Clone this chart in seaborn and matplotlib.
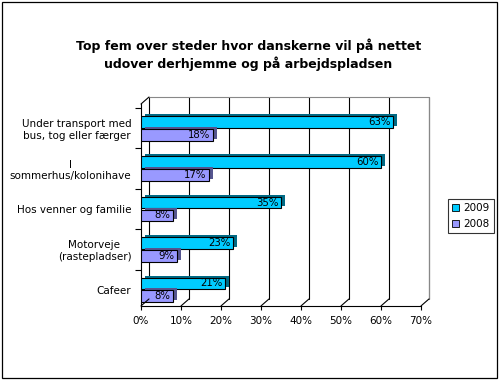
import pandas as pd
import seaborn as sns

import matplotlib.pyplot as plt
import matplotlib.patheffects as PathEffects
import matplotlib.transforms as mtransforms
from matplotlib.patches import Rectangle
from matplotlib.ticker import FixedLocator

# Data
categories = [
    "Under transport med\nbus, tog eller færger",
    "I\nsommerhus/kolonihave",
    "Hos venner og familie",
    "Motorveje\n(rastepladser)",
    "Cafeer",
]
years = ["2009", "2008"]
values_2009 = [63, 60, 35, 23, 21]
values_2008 = [18, 17, 8, 9, 8]
x_ticks = [0, 10, 20, 30, 40, 50, 60, 70]

colors = {"2009": "#00CCFF", "2008": "#9999FF"}
side_colors = {"2009": "#006A85", "2008": "#55558F"}

df = pd.DataFrame({
    "Sted": categories * 2,
    "Andel": values_2009 + values_2008,
    "År": ["2009"] * len(categories) + ["2008"] * len(categories),
})

if __name__ == "__main__":
    sns.set_style("white")
    plt.rcParams["font.family"] = ["DejaVu Sans"]
    plt.rcParams["text.color"] = "black"
    plt.rcParams["xtick.color"] = "black"
    plt.rcParams["ytick.color"] = "black"
    plt.rcParams["axes.labelcolor"] = "black"

    fig = plt.figure(figsize=(5.0, 3.81), dpi=100)
    ax = fig.add_axes([0.282, 0.197, 0.56, 0.530])

    sns.barplot(
        data=df, x="Andel", y="Sted", hue="År", hue_order=years,
        palette=colors, saturation=1, orient="h", width=0.64, gap=0.1,
        edgecolor="black", linewidth=0.8, ax=ax, legend=False,
    )

    # Fake 3D depth on bars
    for cont, yr in zip(ax.containers, years):
        for bar in cont:
            bar.set_path_effects([
                PathEffects.SimplePatchShadow(offset=(2.6, 1.4), shadow_rgbFace=side_colors[yr], alpha=1.0),
                PathEffects.Normal(),
            ])
            bar.set_zorder(3)
        for bar in cont:
            w = bar.get_width()
            yc = bar.get_y() + bar.get_height() / 2
            ax.text(w - 0.6, yc, f"{w:.0f}%", ha="right", va="center",
                    fontsize=7.3, color="black", zorder=5)

    ax.set_xlim(0, 70)
    ax.set_ylim(4.4, -0.6)
    ax.set_xticks(x_ticks)
    ax.set_xticklabels([f"{t}%" for t in x_ticks], fontsize=7.5)
    ax.set_xlabel("")
    ax.set_ylabel("")
    ax.tick_params(axis="y", which="major", length=0, pad=7, labelsize=7.5)
    ax.yaxis.set_minor_locator(FixedLocator([i + 0.5 for i in range(-1, len(categories))]))
    ax.tick_params(axis="y", which="minor", length=4, width=0.8, color="black", left=True)
    ax.tick_params(axis="x", length=3, width=0.8, color="black", bottom=True, pad=4)
    plt.setp(ax.get_yticklabels(), multialignment="center")

    for s in ["top", "right"]:
        ax.spines[s].set_visible(False)
    for s in ["left", "bottom"]:
        ax.spines[s].set_color("black")
        ax.spines[s].set_linewidth(0.8)

    # Back wall gridlines (offset for 3D look)
    back = mtransforms.offset_copy(ax.get_xaxis_transform(), fig=fig, x=8, y=7, units="dots")
    for t in x_ticks:
        ax.plot([t, t], [0, 1], transform=back, color="black", lw=0.8, zorder=1, clip_on=False)
    ax.plot([0, 70], [1, 1], transform=back, color="#888888", lw=0.8, zorder=1, clip_on=False)
    # Floor diagonals
    for t in x_ticks:
        ax.annotate("", xy=(t, 0), xycoords=back, xytext=(t, 0),
                    textcoords=ax.get_xaxis_transform(),
                    arrowprops=dict(arrowstyle="-", color="black", lw=0.8, shrinkA=0, shrinkB=0))
    ax.annotate("", xy=(0, 1), xycoords=back, xytext=(0, 1),
                textcoords=ax.get_xaxis_transform(),
                arrowprops=dict(arrowstyle="-", color="black", lw=0.8, shrinkA=0, shrinkB=0))
    ax.plot([70, 70], [0, 1], transform=back, color="#888888", lw=0.8, zorder=1, clip_on=False)

    # Legend
    handles = [Rectangle((0, 0), 1, 1, facecolor=colors[y], edgecolor="black", lw=0.6) for y in years]
    leg = fig.legend(handles, years, loc="center", bbox_to_anchor=(0.942, 0.433),
                     fontsize=7.5, frameon=True, fancybox=False, handlelength=0.7,
                     handleheight=0.7, handletextpad=0.4, borderpad=0.4, labelspacing=0.6)
    leg.get_frame().set_edgecolor("black")
    leg.get_frame().set_linewidth(0.8)

    fig.text(0.497, 1 - 55 / 381,
             "Top fem over steder hvor danskerne vil på nettet\nudover derhjemme og på arbejdspladsen",
             ha="center", va="center", fontsize=9, fontweight="bold", linespacing=1.3)

    fig.patches.append(Rectangle((0.003, 0.008), 0.99, 0.987, transform=fig.transFigure,
                                 fill=False, edgecolor="black", lw=0.9))

    plt.savefig("out.png", dpi=100)
